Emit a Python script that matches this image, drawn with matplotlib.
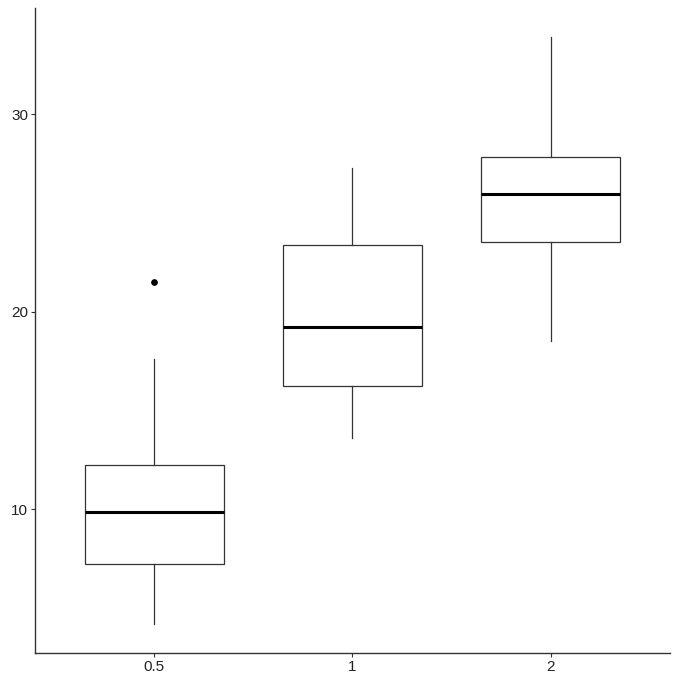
import matplotlib
matplotlib.use("Agg")
import matplotlib.pyplot as plt

plt.rcParams['font.family'] = ['Liberation Sans', 'DejaVu Sans']

categories = ["0.5", "1", "2"]
medians = [9.85, 19.25, 25.95]
q1 = [7.225, 16.25, 23.525]
q3 = [12.25, 23.375, 27.825]
whislo = [4.2, 13.6, 18.5]
whishi = [17.6, 27.3, 33.9]
outliers = [[21.5], [], []]
yticks = [10, 20, 30]

W, H = 682, 685
fig = plt.figure(figsize=(W / 100, H / 100), dpi=100)
ax = fig.add_axes([35 / W, (H - 653) / H, 635 / W, 645 / H])

stats = []
for i, c in enumerate(categories):
    stats.append(dict(label=c, med=medians[i], q1=q1[i], q3=q3[i],
                      whislo=whislo[i], whishi=whishi[i], fliers=outliers[i]))

pos = list(range(1, len(categories) + 1))
ax.bxp(stats, positions=pos, widths=0.7, showcaps=False, patch_artist=True,
       boxprops=dict(facecolor='white', edgecolor='#333333', linewidth=0.9),
       medianprops=dict(color='black', linewidth=2.2),
       whiskerprops=dict(color='#333333', linewidth=0.9),
       flierprops=dict(marker='o', markerfacecolor='black', markeredgecolor='black',
                       markersize=3.8))

ax.set_xlim(0.4, 3.6)
ax.set_ylim(2.715, 35.385)
ax.set_xticks(pos)
ax.set_xticklabels(categories)
ax.set_yticks(yticks)
for s in ['top', 'right']:
    ax.spines[s].set_visible(False)
for s in ['left', 'bottom']:
    ax.spines[s].set_color('#333333')
    ax.spines[s].set_linewidth(1.0)
ax.tick_params(axis='both', length=3, width=0.8, color='#333333',
               labelsize=11, labelcolor='#222222', pad=2)
fig.savefig("out.png", dpi=100)
